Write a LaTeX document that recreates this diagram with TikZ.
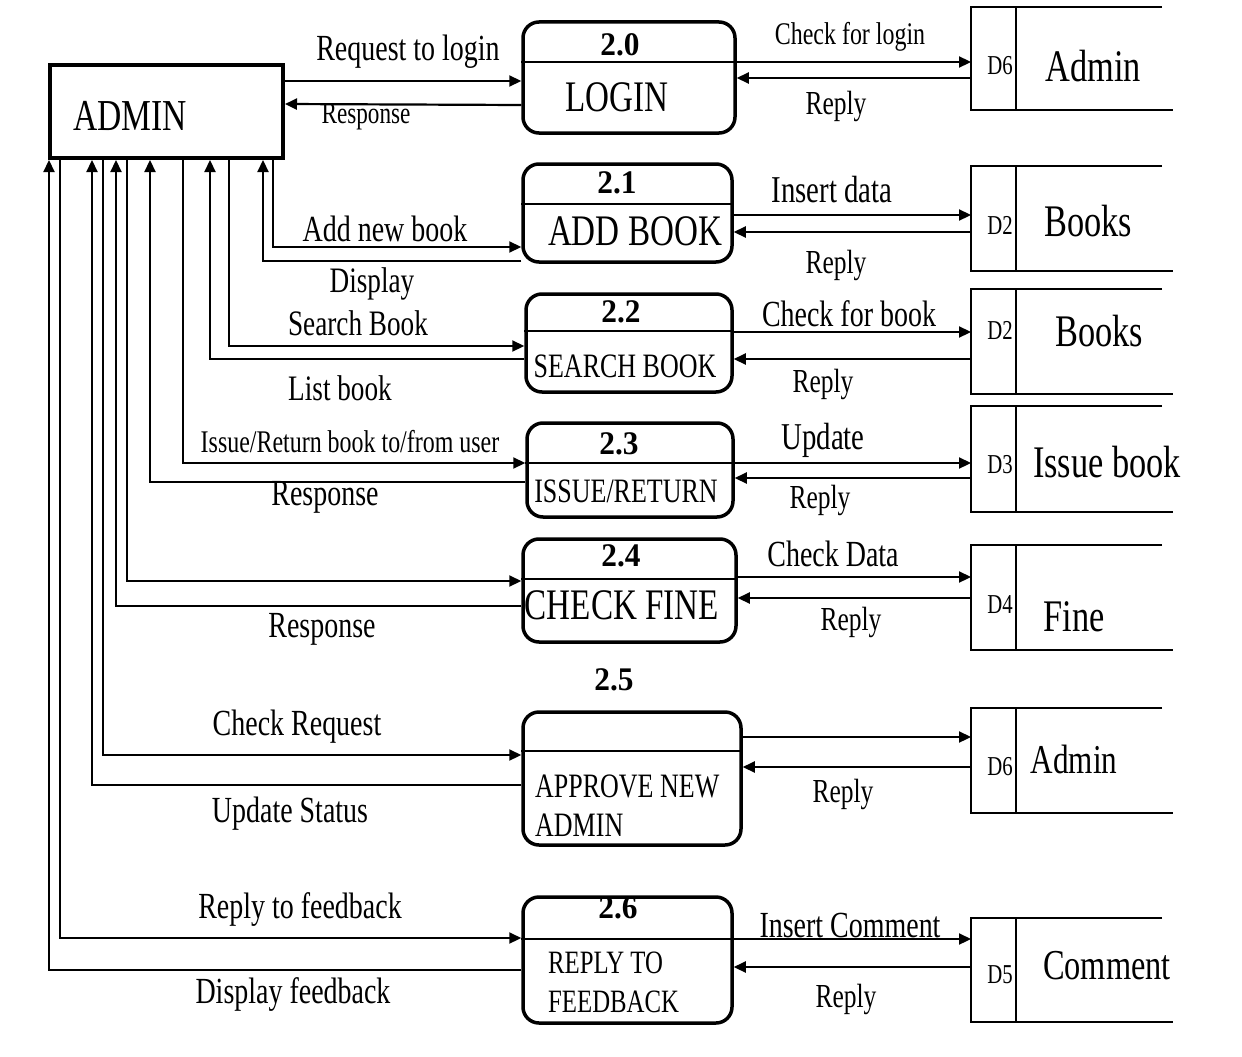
\documentclass[tikz,border=0pt]{standalone}
\usepackage{fontspec}
\usepackage{graphicx}
\usetikzlibrary{arrows.meta}
\newfontfamily\cf{Liberation Serif}[FakeStretch=0.76]
\newfontfamily\nf{Liberation Serif}[FakeStretch=0.95]
\newcommand\fs[2]{\fontsize{#1}{#2}\selectfont}
\newcommand\mkstore[3]{%
  \node[store, minimum height={#3-#2}] (#1) at (1072,{(#2+#3)/2}) {};
  \draw[stline] ([xshift=191pt]#1.north west) -- (#1.north west) -- (#1.south west) -- (#1.south east);
  \draw[stline] ([xshift=45pt]#1.north west) -- ([xshift=45pt]#1.south west);
}
\begin{document}
\begin{tikzpicture}[x=1pt,y=-1pt,
  lbl/.style={font=\cf\fs{36.8}{42}, inner sep=0},
  lbls/.style={font=\cf\fs{31.5}{36}, inner sep=0},
  rply/.style={font=\cf\fs{33.6}{38}, inner sep=0},
  ptxt/.style={font=\cf\fs{43.6}{48}, inner sep=0},
  ptxts/.style={font=\cf\fs{34.2}{39}, inner sep=0, align=left},
  num/.style={font=\nf\bfseries\fs{33}{37}, inner sep=0},
  stxt/.style={font=\cf\fs{45.2}{50}, inner sep=0},
  dtxt/.style={font=\cf\fs{27.3}{31}, inner sep=0},
  proc/.style={draw, line width=3.5pt, rounded corners=16pt, inner sep=0},
  ent/.style={draw, line width=4pt, inner sep=0},
  div/.style={line width=2pt},
  store/.style={inner sep=0, outer sep=0, minimum width=202},
  stline/.style={line width=2pt},
  flow/.style={line width=2.2pt, -{Triangle[length=12pt,width=11pt]}},
  plain/.style={line width=2.2pt}
]
\useasboundingbox[fill=white] (0,0) rectangle (1242,1057);

% external entity
\node[ent, minimum width=233, minimum height=93] (admin) at (166.5,111.5) {};
\node[font=\cf\fs{44.2}{48}, inner sep=0] (admintxt) at (130,116) {ADMIN};

% processes
\node[proc, minimum width=212, minimum height=111] (p20) at (629,77.5) {};
\draw[div] (p20.west |- 0,62) -- (p20.east |- 0,62);
\node[num] (n20) at (620,45) {2.0};
\node[ptxt] (t20) at (617,97) {LOGIN};

\node[proc, minimum width=209, minimum height=98] (p21) at (627.5,213) {};
\draw[div] (p21.west |- 0,204) -- (p21.east |- 0,204);
\node[num] (n21) at (617,183) {2.1};
\node[ptxt] (t21) at (635,231) {ADD BOOK};

\node[proc, minimum width=206, minimum height=98] (p22) at (629,343) {};
\draw[div] (p22.west |- 0,331) -- (p22.east |- 0,331);
\node[num] (n22) at (621,312) {2.2};
\node[ptxts] (t22) at (625,366) {SEARCH BOOK};

\node[proc, minimum width=206, minimum height=94] (p23) at (630,470) {};
\draw[div] (p23.west |- 0,463) -- (p23.east |- 0,463);
\node[num] (n23) at (619,444) {2.3};
\node[ptxts] (t23) at (626,491) {ISSUE/RETURN};

\node[proc, minimum width=213, minimum height=103] (p24) at (629.5,590.5) {};
\draw[div] (p24.west |- 0,579) -- (p24.east |- 0,579);
\node[num] (n24) at (621,556) {2.4};
\node[ptxt] (t24) at (622,605) {CHECK FINE};

\node[num] (n25) at (614,680) {2.5};
\node[proc, minimum width=218, minimum height=133] (p25) at (632,778.5) {};
\draw[div] (p25.west |- 0,751) -- (p25.east |- 0,751);
\node[ptxts, anchor=west] (t25) at (535,806) {APPROVE NEW\\ADMIN};

\node[proc, minimum width=209, minimum height=126] (p26) at (627.5,960) {};
\draw[div] (p26.west |- 0,939) -- (p26.east |- 0,939);
\node[num] (n26) at (618,908) {2.6};
\node[ptxts, font=\cf\fs{32.6}{39}, anchor=west] (t26) at (548,982) {REPLY TO\\FEEDBACK};

% data stores
\mkstore{d6a}{7}{110}
\mkstore{d2a}{166}{271}
\mkstore{d2b}{289}{394}
\mkstore{d3}{406}{512}
\mkstore{d4}{545}{650}
\mkstore{d6b}{708}{813}
\mkstore{d5}{918}{1022}
\node[dtxt] (s1d) at (1000,66) {D6};  \node[stxt] (s1t) at (1093,66) {Admin};
\node[dtxt] (s2d) at (1000,225) {D2}; \node[stxt] (s2t) at (1088,221) {Books};
\node[dtxt] (s3d) at (1000,330) {D2}; \node[stxt] (s3t) at (1099,331) {Books};
\node[dtxt] (s4d) at (1000,465) {D3}; \node[stxt] (s4t) at (1107,462) {Issue book};
\node[dtxt] (s5d) at (1000,605) {D4}; \node[stxt] (s5t) at (1074,617) {Fine};
\node[dtxt] (s6d) at (1000,767) {D6}; \node[stxt, font=\cf\fs{41}{46}] (s6t) at (1074,759) {Admin};
\node[dtxt] (s7d) at (1000,975) {D5}; \node[stxt, font=\cf\fs{42.6}{47}] (s7t) at (1107,966) {Comment};

% ADMIN <-> LOGIN
\draw[flow] (admin.east |- 0,81) -- (p20.west |- 0,81);
\draw[flow] (p20.west |- 0,105) -- (admin.east |- 0,104);
\node[lbl] (l1) at (408,52) {Request to login};
\node[lbls, font=\cf\fs{30.5}{35}] (l2) at (366,117) {Response};

% ADMIN <-> processes (bottom lines)
\draw[flow] (273,0 |- admin.south) |- (p21.west |- 0,247);
\draw[flow] (p21.west |- 0,261) -| (263,0 |- admin.south);
\node[lbl] (l3) at (385,229) {Add new book};
\node[lbl, font=\cf\fs{35.8}{40}] (l4) at (372,284) {Display};

\draw[flow] (229,0 |- admin.south) |- (p22.west |- 0,346);
\draw[flow] (p22.west |- 0,359) -| (210,0 |- admin.south);
\node[lbl, font=\cf\fs{35.8}{40}] (l5) at (358,323) {Search Book};
\node[lbl, font=\cf\fs{35.8}{40}] (l6) at (340,388) {List book};

\draw[flow] (183,0 |- admin.south) |- (p23.west |- 0,463);
\draw[flow] (p23.west |- 0,482) -| (150,0 |- admin.south);
\node[lbls] (l7) at (350,442) {Issue/Return book to/from user};
\node[lbl] (l8) at (325,497) {Response};

\draw[flow] (127,0 |- admin.south) |- (p24.west |- 0,581);
\draw[flow] (p24.west |- 0,606) -| (116,0 |- admin.south);
\node[lbl] (l9) at (322,629) {Response};

\draw[flow] (103,0 |- admin.south) |- (p25.west |- 0,755);
\draw[flow] (p25.west |- 0,785) -| (92,0 |- admin.south);
\node[lbl] (l10) at (297,727) {Check Request};
\node[lbl] (l11) at (290,814) {Update Status};

\draw[flow] (60,0 |- admin.south) |- (p26.west |- 0,938);
\draw[flow] (p26.west |- 0,970) -| (49,0 |- admin.south);
\node[lbl] (l12) at (300,910) {Reply to feedback};
\node[lbl] (l13) at (293,995) {Display feedback};

% processes <-> stores
\draw[flow] (p20.east |- 0,62) -- (d6a.west |- 0,62);
\draw[flow] (d6a.west |- 0,78) -- (p20.east |- 0,78);
\node[lbls] (r1a) at (850,37) {Check for login};
\node[rply] (r1b) at (836,106) {Reply};

\draw[flow] (p21.east |- 0,215) -- (d2a.west |- 0,215);
\draw[flow] (d2a.west |- 0,232) -- (p21.east |- 0,232);
\node[lbl, font=\cf\fs{37.9}{42}] (r2a) at (832,190) {Insert data};
\node[rply] (r2b) at (836,265) {Reply};

\draw[flow] (p22.east |- 0,332) -- (d2b.west |- 0,332);
\draw[flow] (d2b.west |- 0,359) -- (p22.east |- 0,359);
\node[lbl] (r3a) at (849,314) {Check for book};
\node[rply] (r3b) at (823,384) {Reply};

\draw[flow] (p23.east |- 0,463) -- (d3.west |- 0,463);
\draw[flow] (d3.west |- 0,478) -- (p23.east |- 0,478);
\node[lbl, font=\cf\fs{37.9}{42}] (r4a) at (823,440) {Update};
\node[rply] (r4b) at (820,500) {Reply};

\draw[flow] (p24.east |- 0,577) -- (d4.west |- 0,577);
\draw[flow] (d4.west |- 0,598) -- (p24.east |- 0,598);
\node[lbl] (r5a) at (833,554) {Check Data};
\node[rply] (r5b) at (851,622) {Reply};

\draw[flow] (p25.east |- 0,737) -- (d6b.west |- 0,737);
\draw[flow] (d6b.west |- 0,767) -- (p25.east |- 0,767);
\node[rply] (r6b) at (843,794) {Reply};

\draw[flow] (p26.east |- 0,939) -- (d5.west |- 0,939);
\draw[flow] (d5.west |- 0,967) -- (p26.east |- 0,967);
\node[lbl] (r7a) at (850,925) {Insert Comment};
\node[rply] (r7b) at (846,999) {Reply};
\end{tikzpicture}
\end{document}
